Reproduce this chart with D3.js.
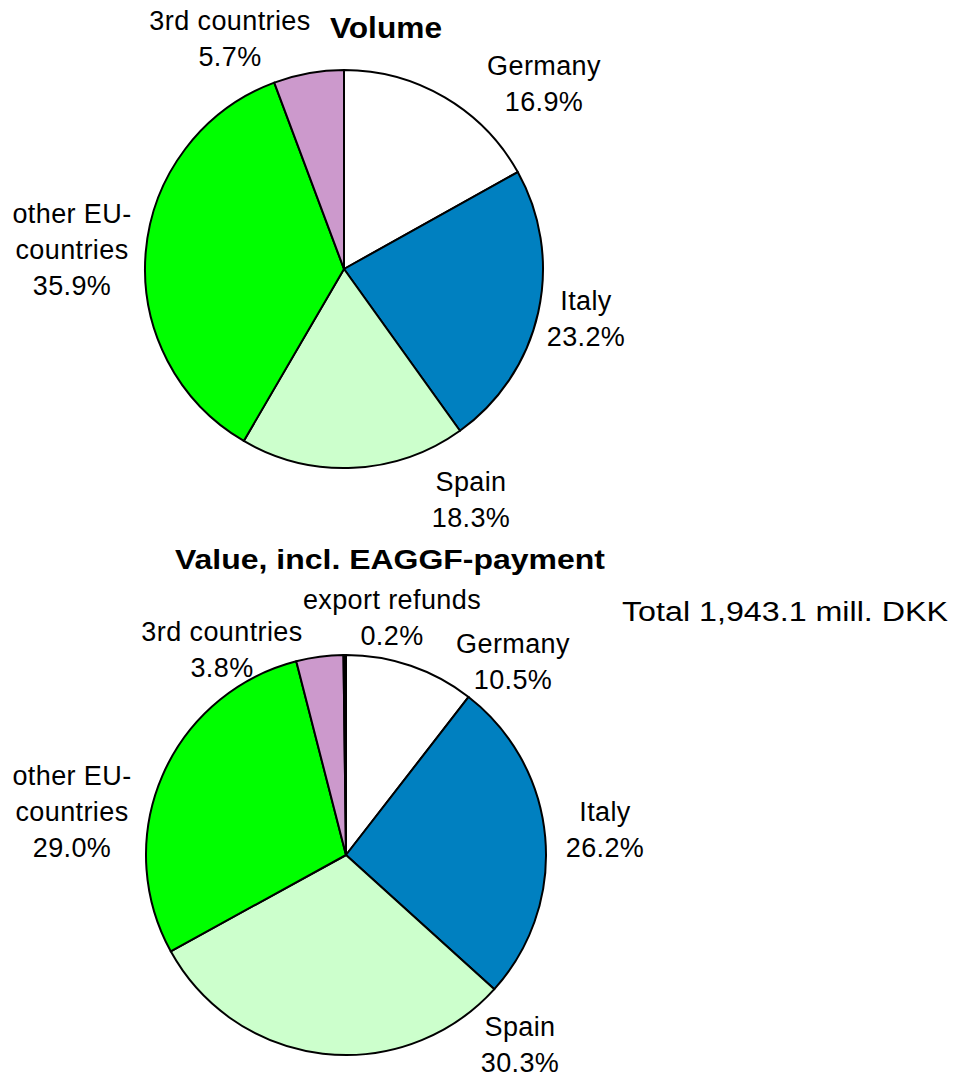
<!DOCTYPE html>
<html>
<head>
<meta charset="utf-8">
<script src="https://cdn.jsdelivr.net/npm/d3@7"></script>
<style>
  html, body { margin: 0; padding: 0; background: #fff; }
  svg { display: block; }
  text { font-family: "Liberation Sans", Arial, sans-serif; fill: #000; }
</style>
</head>
<body>
<svg id="chart" width="959" height="1077"></svg>
<script>
// ---- data ----
const volumeCategories = ["Germany", "Italy", "Spain", "other EU-countries", "3rd countries"];
const volumeShares = [16.9, 23.2, 18.3, 35.9, 5.7];

const valueCategories = ["Germany", "Italy", "Spain", "other EU-countries", "3rd countries", "export refunds"];
const valueShares = [10.5, 26.2, 30.3, 29.0, 3.8, 0.2];

const titles = ["Volume", "Value, incl. EAGGF-payment"];
const totalNote = "Total 1,943.1 mill. DKK";

// ---- styling / layout (not data) ----
const colors = {
  "Germany": "#FFFFFF",
  "Italy": "#0080C0",
  "Spain": "#CCFFCC",
  "other EU-countries": "#00FF00",
  "3rd countries": "#CC99CC",
  "export refunds": "#000000"
};
const labelLines = {
  "Germany": ["Germany"],
  "Italy": ["Italy"],
  "Spain": ["Spain"],
  "other EU-countries": ["other EU-", "countries"],
  "3rd countries": ["3rd countries"],
  "export refunds": ["export refunds"]
};
// label anchor (center x, first baseline y) per pie
const volumeLabelPos = {
  "Germany": [544, 75],
  "Italy": [586, 310],
  "Spain": [471, 491],
  "other EU-countries": [72, 223],
  "3rd countries": [230, 30]
};
const valueLabelPos = {
  "Germany": [513, 653],
  "Italy": [605, 821],
  "Spain": [520, 1036],
  "other EU-countries": [72, 785],
  "3rd countries": [222, 641],
  "export refunds": [392, 609]
};
const lineGap = 36;
const fontSize = 27;

const svg = d3.select("#chart");

function drawPie(cats, vals, cx, cy, r, labelPos) {
  const pie = d3.pie().sort(null).value(d => d.v).startAngle(0).endAngle(2 * Math.PI);
  const arc = d3.arc().innerRadius(0).outerRadius(r);
  const data = cats.map((c, i) => ({ c, v: vals[i] }));
  const g = svg.append("g").attr("transform", `translate(${cx},${cy})`);
  g.selectAll("path")
    .data(pie(data))
    .join("path")
    .attr("d", arc)
    .attr("fill", d => colors[d.data.c])
    .attr("stroke", "#000")
    .attr("stroke-width", 2)
    .attr("stroke-linejoin", "round");

  const fmt = d3.format(".1f");
  data.forEach(d => {
    const [x, y] = labelPos[d.c];
    const lines = labelLines[d.c].concat([fmt(d.v) + "%"]);
    const t = svg.append("text")
      .attr("text-anchor", "middle")
      .attr("font-size", fontSize)
      .attr("letter-spacing", 0.4);
    lines.forEach((ln, i) => {
      t.append("tspan").attr("x", x).attr("y", y + i * lineGap).text(ln);
    });
  });
}

drawPie(volumeCategories, volumeShares, 344, 269, 199, volumeLabelPos);
drawPie(valueCategories, valueShares, 346, 855, 200, valueLabelPos);

// titles
svg.append("text")
  .attr("x", 386).attr("y", 38)
  .attr("text-anchor", "middle")
  .attr("font-size", 29).attr("font-weight", "bold")
  .attr("textLength", 112).attr("lengthAdjust", "spacingAndGlyphs")
  .text(titles[0]);
svg.append("text")
  .attr("x", 390).attr("y", 569)
  .attr("text-anchor", "middle")
  .attr("font-size", 28).attr("font-weight", "bold")
  .attr("textLength", 430).attr("lengthAdjust", "spacingAndGlyphs")
  .text(titles[1]);

svg.append("text")
  .attr("x", 785).attr("y", 621)
  .attr("text-anchor", "middle")
  .attr("font-size", 27)
  .attr("textLength", 326).attr("lengthAdjust", "spacingAndGlyphs")
  .text(totalNote);
</script>
</body>
</html>
